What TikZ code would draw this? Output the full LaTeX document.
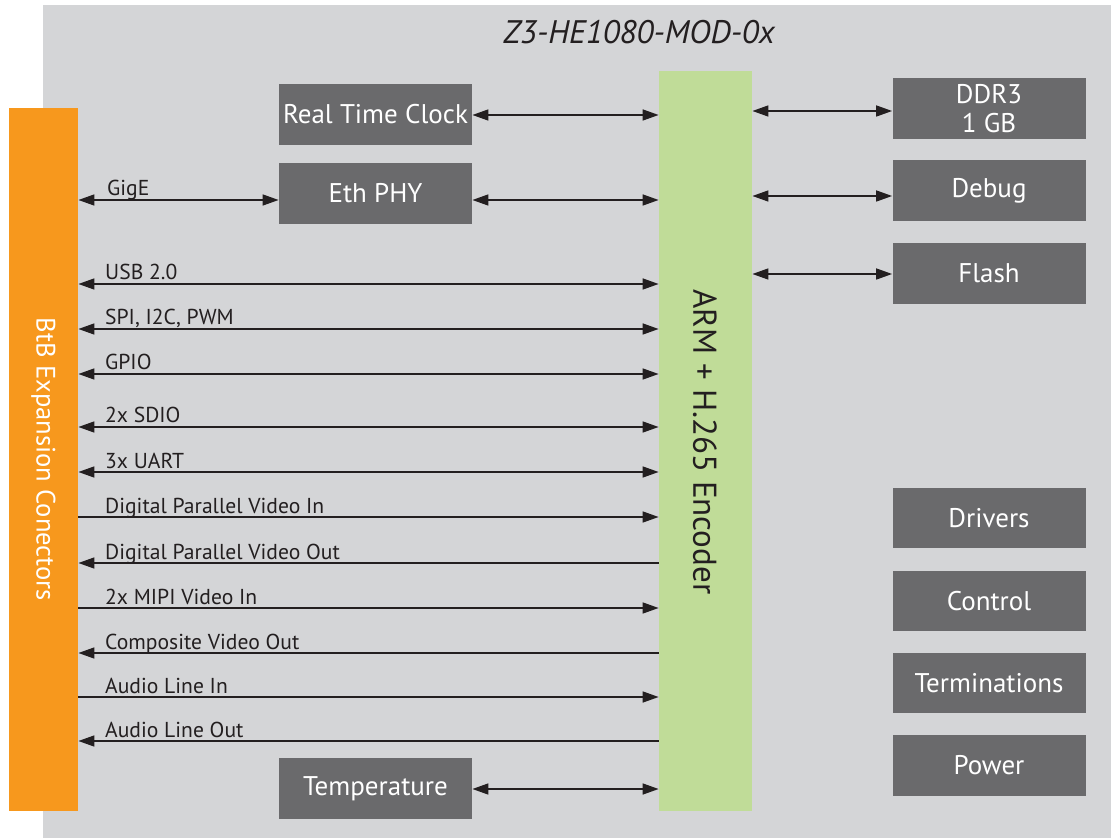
\documentclass[tikz,border=0pt]{standalone}
\usepackage{fontspec}
\setmainfont{PT Sans}
\usetikzlibrary{arrows.meta}
\definecolor{bggray}{HTML}{D4D5D7}
\definecolor{boxgray}{HTML}{6A6A6C}
\definecolor{btborange}{HTML}{F7981D}
\definecolor{socgreen}{HTML}{C0DC98}
\definecolor{linedark}{HTML}{231F20}

\begin{document}
\begin{tikzpicture}[x=0.5pt, y=-0.5pt,
    >={Triangle[length=8pt,width=5.5pt]},
    box/.style={fill=boxgray, text=white, inner sep=0pt, minimum width=96.5pt,
        minimum height=30.5pt, align=center, font=\fontsize{13.5}{14.5}\selectfont},
    sig/.style={draw=linedark, line width=0.8pt},
    lbl/.style={anchor=base west, inner sep=0pt, text=linedark,
        font=\fontsize{10.8}{12}\selectfont}]
\useasboundingbox (0,0) rectangle (1111,838);
\fill[bggray] (43,5) rectangle (1111,838);
\node[text=linedark, font=\itshape\fontsize{16.3}{18}\selectfont] (title) at (639,32) {Z3-HE1080-MOD-0x};

% expansion connectors and SoC
\node[fill=btborange, inner sep=0pt, minimum width=34.5pt, minimum height=351.5pt] (btb) at (43.5,459.5) {};
\node[rotate=-90, text=white, font=\fontsize{13.3}{14}\selectfont] (btbtext) at (btb.center) {BtB Expansion Conectors};
\node[fill=socgreen, inner sep=0pt, minimum width=46.5pt, minimum height=370pt] (soc) at (705.5,441) {};
\node[rotate=-90, text=linedark, font=\fontsize{16.5}{18}\selectfont] (soctext) at (705,442) {ARM + H.265 Encoder};

% blocks
\node[box] (rtc) at (375.5,114.5) {Real Time Clock};
\node[box] (eth) at (375.5,193.5) {Eth PHY};
\node[box] (temp) at (375.5,788.5) {Temperature};
\node[box] (ddr) at (989,108.5) {DDR3\\1 GB};
\node[box] (debug) at (989,190.5) {Debug};
\node[box] (flash) at (989,273.5) {Flash};
\node[box, minimum height=30pt] (drivers) at (989,518) {Drivers};
\node[box, minimum height=30pt] (control) at (989,601) {Control};
\node[box, minimum height=30pt] (term) at (989,683) {Terminations};
\node[box] (power) at (989,765.5) {Power};

% links
\draw[sig, <->] (rtc.east |- 0,115) -- (soc.west |- 0,115);
\draw[sig, <->] (eth.east |- 0,200) -- (soc.west |- 0,200);
\draw[sig, <->] (btb.east |- 0,200) -- (eth.west |- 0,200)
    node[lbl, pos=0, xshift=14pt, yshift=2pt] {GigE};
\draw[sig, <->] (temp.east |- 0,789) -- (soc.west |- 0,789);
\draw[sig, <->] (soc.east |- 0,111) -- (ddr.west |- 0,111);
\draw[sig, <->] (soc.east |- 0,196) -- (debug.west |- 0,196);
\draw[sig, <->] (soc.east |- 0,274) -- (flash.west |- 0,274);

\foreach \y/\tip/\txt in {284/<->/USB 2.0, 329/<->/{SPI, I2C, PWM}, 374/<->/GPIO,
    427/<->/2x SDIO, 472/<->/3x UART, 517/->/Digital Parallel Video In,
    563/<-/Digital Parallel Video Out, 608/->/2x MIPI Video In,
    653/<-/Composite Video Out, 697/->/Audio Line In, 741/<-/Audio Line Out}
  \draw[sig, \tip] (btb.east |- 0,\y) -- (soc.west |- 0,\y)
    node[lbl, pos=0, xshift=13pt, yshift=2pt] {\txt};
\end{tikzpicture}
\end{document}
